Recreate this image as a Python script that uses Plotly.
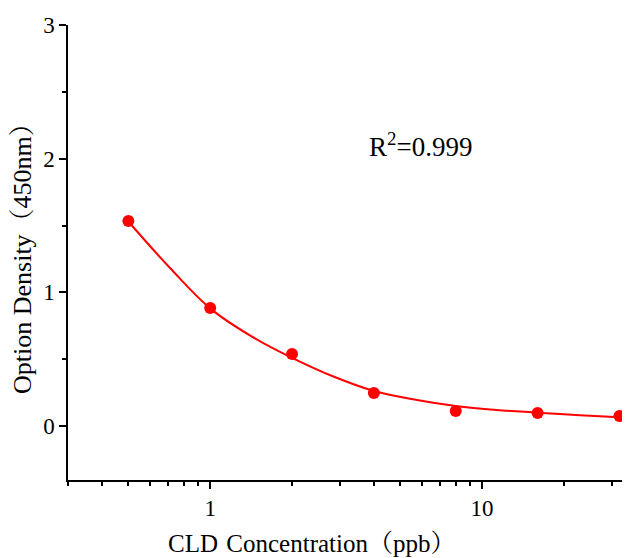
import plotly.graph_objects as go

# Measured standard points
conc = [0.5, 1, 2, 4, 8, 16, 32]
od = [1.533, 0.883, 0.539, 0.247, 0.112, 0.097, 0.075]

# Fitted curve
fit_conc = [0.5, 0.713, 1, 1.42, 2, 2.84, 4, 5.76, 8, 11.3, 16, 22.9, 32]
fit_od = [1.53, 1.18, 0.88, 0.67, 0.51, 0.37, 0.262, 0.195, 0.15, 0.12, 0.10, 0.08, 0.065]

x_tickvals = [1, 10]
x_ticktext = ["1", "10"]
y_tickvals = [0, 1, 2, 3]
annotation_text = "R<sup>2</sup>=0.999"
x_title = "CLD\u00a0\u200aConcentration（ppb）"
y_title = "Option Density（450nm）"

FONT = "Liberation Serif, Times New Roman, Noto Serif CJK SC, Noto Sans CJK SC, serif"
RED = "#FF0000"
W, H = 630, 558
OFF = 8  # page body margin
ML, MR, MT, MB = 68 - OFF, OFF, 25 - OFF, H - (480 - OFF)

ph = H - MT - MB
pw = W - ML - MR


def px(xp):
    return (xp - OFF - ML) / pw


def py(yp):
    return (H - MB - (yp - OFF)) / ph


fig = go.Figure()
fig.add_trace(go.Scatter(x=fit_conc, y=fit_od, mode="lines",
                         line=dict(color=RED, width=2, shape="spline", smoothing=1.0),
                         hoverinfo="skip", showlegend=False))
fig.add_trace(go.Scatter(x=conc, y=od, mode="markers",
                         marker=dict(color=RED, size=12), showlegend=False))

fig.add_annotation(xref="paper", yref="paper", x=px(420), y=py(126),
                   text=annotation_text, showarrow=False,
                   font=dict(family=FONT, size=27, color="black"))
fig.add_annotation(xref="paper", yref="paper", x=px(311), y=py(543),
                   text=x_title, showarrow=False, xanchor="center", yanchor="middle",
                   font=dict(family=FONT, size=25, color="black"))
fig.add_annotation(xref="paper", yref="paper", x=px(22), y=py(252),
                   text=y_title, showarrow=False, textangle=-90,
                   xanchor="center", yanchor="middle",
                   font=dict(family=FONT, size=26, color="black"))

fig.update_layout(
    width=W, height=H,
    margin=dict(l=ML, r=MR, t=MT, b=MB, autoexpand=False),
    paper_bgcolor="white", plot_bgcolor="white",
    font=dict(family=FONT, color="black"),
)
fig.update_xaxes(
    type="log", range=[-0.523, 1.544], automargin=False,
    tickvals=x_tickvals, ticktext=x_ticktext,
    ticks="outside", ticklen=7, tickwidth=1.5, tickcolor="black",
    minor=dict(ticks="outside", ticklen=4, tickwidth=1.5, tickcolor="black", dtick="D1", showgrid=False),
    showline=True, linecolor="black", linewidth=1.5, mirror=False,
    showgrid=False, zeroline=False,
    tickfont=dict(family=FONT, size=23, color="black"),
)
fig.update_yaxes(
    range=[-0.404, 3.0], automargin=False,
    tickvals=y_tickvals,
    ticks="outside", ticklen=7, tickwidth=1.5, tickcolor="black",
    minor=dict(ticks="outside", ticklen=4, tickwidth=1.5, tickcolor="black", dtick=0.5, showgrid=False),
    showline=True, linecolor="black", linewidth=1.5, mirror=False,
    showgrid=False, zeroline=False,
    tickfont=dict(family=FONT, size=23, color="black"),
)

fig.write_html("out.html")
